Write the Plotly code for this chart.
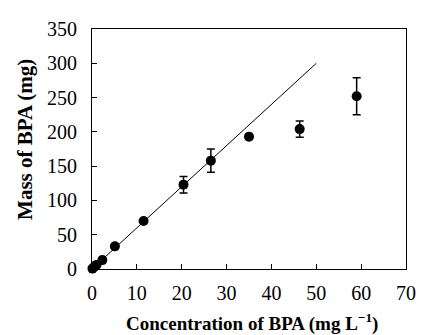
import plotly.graph_objects as go

conc = [0.1, 0.5, 1.0, 2.3, 5.1, 11.5, 20.4, 26.5, 35.0, 46.3, 59.0]
mass = [0.6, 3.0, 6.0, 13.0, 33.0, 70.0, 123.0, 158.0, 193.0, 204.0, 252.0]
mass_err = [0.5, 0.5, 1.0, 1.5, 2.0, 2.0, 12.0, 17.0, 3.0, 12.0, 27.0]

fit_x = [0, 50]
fit_y = [0, 300]

x_ticks = [0, 10, 20, 30, 40, 50, 60, 70]
y_ticks = [0, 50, 100, 150, 200, 250, 300, 350]

x_title = "<b>Concentration of BPA (mg L<sup>−1</sup>)</b>"
y_title = "<b>Mass of BPA (mg)</b>"

font_family = "Liberation Serif, Times New Roman, serif"

fig = go.Figure()
fig.add_trace(go.Scatter(x=fit_x, y=fit_y, mode="lines", cliponaxis=False,
                         line=dict(color="black", width=1), showlegend=False))
fig.add_trace(go.Scatter(x=conc, y=mass, mode="markers", cliponaxis=False,
                         marker=dict(color="black", size=10),
                         error_y=dict(type="data", array=mass_err, color="black",
                                      thickness=1.5, width=4),
                         showlegend=False))

# the page body adds an 8px margin, so the figure is sized to fit the window
fig.update_layout(
    width=418, height=327,
    margin=dict(l=84, r=10, t=14, b=66),
    paper_bgcolor="white", plot_bgcolor="white",
    font=dict(family=font_family, color="black", size=20),
    xaxis=dict(range=[0, 70], tickvals=x_ticks, ticks="inside", ticklen=5,
               tickcolor="black", showline=True, linecolor="black", linewidth=1,
               mirror=True, showgrid=False, zeroline=False,
               ticklabelstandoff=6),
    yaxis=dict(range=[0, 350], tickvals=y_ticks, ticks="inside", ticklen=5,
               tickcolor="black", showline=True, linecolor="black", linewidth=1,
               mirror=True, showgrid=False, zeroline=False,
               ticklabelstandoff=10),
    annotations=[
        dict(text=x_title, xref="paper", yref="paper", x=0.51, y=0,
             xanchor="center", yanchor="middle", yshift=-53,
             showarrow=False, font=dict(size=19)),
        dict(text=y_title, xref="paper", yref="paper", x=0, y=0.538,
             xanchor="center", yanchor="middle", xshift=-67, textangle=-90,
             showarrow=False, font=dict(size=21)),
    ],
)

fig.write_html("out.html")
